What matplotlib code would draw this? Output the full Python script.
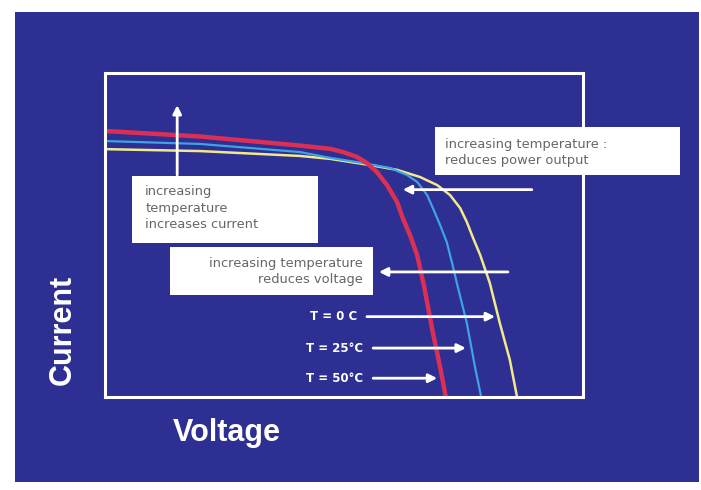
import matplotlib
matplotlib.use("Agg")
import matplotlib.pyplot as plt
from matplotlib.patches import Rectangle

# ---- data (arbitrary units) ----
v_hot = [0, 19.9, 40.8, 47.1, 49.8, 52.7, 54.8, 56.9, 59.0, 61.1, 62.3, 63.8, 65.3, 66.7, 68.6, 70.1, 71.3]
i_hot = [82.1, 80.4, 77.6, 76.6, 75.6, 74.1, 72.2, 69.4, 65.4, 60.2, 55.2, 50.0, 43.8, 34.6, 19.8, 9.3, 0]

v_mid = [0, 19.9, 40.8, 47.1, 54.0, 59.6, 63.2, 65.3, 67.4, 68.6, 70.1, 71.5, 72.6, 73.6, 75.7, 77.4, 78.7]
i_mid = [79.0, 78.1, 75.6, 73.8, 72.2, 70.7, 68.5, 66.4, 62.3, 58.3, 53.1, 47.8, 41.4, 35.2, 22.8, 9.3, 0]

v_cold = [0, 19.9, 40.8, 47.1, 55.4, 61.1, 65.9, 69.5, 72.2, 74.3, 75.7, 77.0, 78.5, 80.5, 82.6, 84.7, 86.2]
i_cold = [76.5, 75.9, 74.4, 73.5, 71.6, 70.1, 67.9, 65.4, 62.3, 58.3, 54.0, 49.1, 43.8, 35.2, 22.8, 11.4, 0]

temp_labels = ["T = 0 C", "T = 25\u00b0C", "T = 50\u00b0C"]
box_power = "increasing temperature :\nreduces power output"
box_current = "increasing\ntemperature\nincreases current"
box_voltage = "increasing temperature\nreduces voltage"

W, H = 701, 490
fig = plt.figure(figsize=(W / 100, H / 100), dpi=100)
fig.patch.set_facecolor("white")
BG = "#2d2f92"
fig.patches.append(Rectangle((15 / W, 1 - 482 / H), (699 - 15) / W, (482 - 12) / H,
                             transform=fig.transFigure, facecolor=BG, edgecolor="none", zorder=-5))

ax = fig.add_axes([105 / W, (H - 397) / H, 478 / W, 324 / H])
ax.set_zorder(2)
ax.set_facecolor("none")
ax.set_xlim(0, 100)
ax.set_ylim(0, 100)
ax.set_xticks([])
ax.set_yticks([])
for s in ax.spines.values():
    s.set_color("white")
    s.set_linewidth(2.2)
    s.set_zorder(6)

kw = dict(solid_capstyle="round", solid_joinstyle="round")
ax.plot(v_cold, i_cold, color="#f2e98a", lw=1.8, zorder=3, **kw)
ax.plot(v_mid, i_mid, color="#3fa2e3", lw=1.6, zorder=3, **kw)
ax.plot(v_hot, i_hot, color="#dc2f55", lw=3.2, zorder=4, **kw)

# text boxes
def tbox(x0, y0, x1, y1):
    ax.add_patch(Rectangle((x0, y0), x1 - x0, y1 - y0, facecolor="white", edgecolor="none",
                           zorder=7, clip_on=False))

TXT = "#666666"
FS = 9.4
tbox(69.0, 68.5, 120.3, 83.3)
ax.text(71.1, 75.6, box_power, fontsize=FS, color=TXT, ha="left", va="center",
        linespacing=1.3, zorder=8, clip_on=False)
tbox(5.6, 47.5, 44.6, 68.2)
ax.text(8.4, 58.2, box_current, fontsize=FS, color=TXT, ha="left", va="center",
        linespacing=1.35, zorder=8)
tbox(13.6, 31.5, 56.1, 46.3)
ax.text(54.0, 38.8, box_voltage, fontsize=FS, color=TXT, ha="right", va="center",
        linespacing=1.3, zorder=8, multialignment="right")

arr = dict(arrowstyle="-|>,head_length=0.5,head_width=0.25", color="white", lw=2.0,
           shrinkA=0, shrinkB=0)
# vertical arrow (increases current)
ax.annotate("", xy=(15.1, 90.1), xytext=(15.1, 68.5), arrowprops=arr, zorder=5)
# power arrow
ax.annotate("", xy=(62.3, 64.0), xytext=(89.3, 64.0), arrowprops=arr, zorder=5)
# voltage arrow
ax.annotate("", xy=(57.3, 38.6), xytext=(84.3, 38.6), arrowprops=arr, zorder=5)

# temperature labels and arrows
t_y = [24.8, 15.1, 5.8]
t_start = [54.8, 56.1, 56.1]
t_end = [81.6, 75.5, 69.5]
for lab, y, xs, xe in zip(temp_labels, t_y, t_start, t_end):
    ax.text(xs - 2.0, y, lab, fontsize=8.5, color="white", fontweight="bold",
            ha="right", va="center", zorder=8)
    ax.annotate("", xy=(xe, y), xytext=(xs, y), arrowprops=arr, zorder=5)

fig.text(227 / W, 1 - 433 / H, "Voltage", fontsize=22, fontweight="bold", color="white",
         ha="center", va="center", family="Liberation Sans", zorder=3)
fig.text(63 / W, 1 - 330 / H, "Current", fontsize=22, fontweight="bold", color="white",
         ha="center", va="center", rotation=90, family="Liberation Sans", zorder=3)

fig.savefig("out.png", dpi=100, facecolor=fig.get_facecolor())
